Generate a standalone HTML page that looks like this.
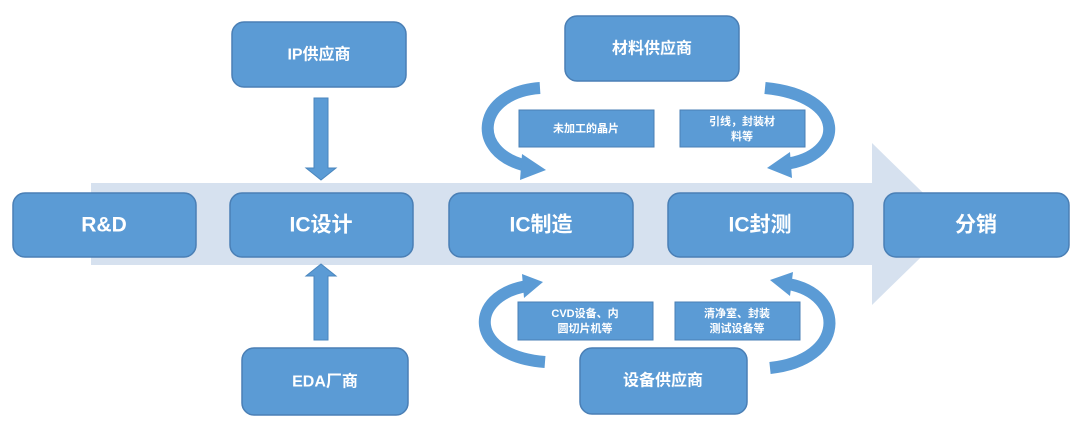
<!DOCTYPE html>
<html><head><meta charset="utf-8"><style>
html,body{margin:0;padding:0;background:#fff;}
svg{display:block}
text{font-family:"Liberation Sans","Noto Sans CJK SC",sans-serif;font-weight:bold;fill:#fff;text-anchor:middle;dominant-baseline:central}
</style></head><body>
<svg width="1080" height="430" viewBox="0 0 1080 430" xmlns="http://www.w3.org/2000/svg">
<!-- big light arrow -->
<polygon points="91,183 872,183 872,143 955,224 872,305 872,265 91,265" fill="#d6e1ef"/>
<!-- vertical arrows -->
<polygon points="314,98 328,98 328,168 336,168 321,180 306,168 314,168" fill="#5b9bd5" stroke="#4a86be" stroke-width="1"/>
<polygon points="314,340 328,340 328,276 336,276 321,264 306,276 314,276" fill="#5b9bd5" stroke="#4a86be" stroke-width="1"/>
<!-- curved arrows -->
<g fill="none" stroke="#5b9bd5" stroke-width="12">
<path d="M540,88 C478,92 468,152 527,166"/>
<path d="M765,88 C848,96 846,156 785,164"/>
<path d="M545,362 C468,356 468,296 527,286"/>
<path d="M770,368 C846,360 846,294 788,284"/>
</g>
<g fill="#5b9bd5">
<polygon points="522,154 546,170 520,180"/>
<polygon points="790,152 767,168 792,178"/>
<polygon points="522,274 543,282 524,298"/>
<polygon points="793,272 770,280 790,296"/>
</g>
<!-- main boxes -->
<g fill="#5b9bd5" stroke="#4a7fb5" stroke-width="1.5">
<rect x="13" y="193" width="183" height="64" rx="12"/>
<rect x="230" y="193" width="183" height="64" rx="12"/>
<rect x="449" y="193" width="184" height="64" rx="12"/>
<rect x="668" y="193" width="185" height="64" rx="12"/>
<rect x="884" y="193" width="185" height="64" rx="12"/>
<rect x="232" y="22" width="174" height="65" rx="12"/>
<rect x="242" y="348" width="166" height="67" rx="12"/>
<rect x="565" y="16" width="174" height="65" rx="12"/>
<rect x="580" y="348" width="167" height="66" rx="12"/>
</g>
<g fill="#5b9bd5" stroke="#4a7fb5" stroke-width="1">
<rect x="519" y="110" width="135" height="37"/>
<rect x="680" y="110" width="125" height="37"/>
<rect x="518" y="302" width="135" height="38"/>
<rect x="675" y="302" width="125" height="38"/>
</g>
<text x="104" y="225" font-size="21">R&amp;D</text>
<text x="321" y="225" font-size="21">IC设计</text>
<text x="541" y="225" font-size="21">IC制造</text>
<text x="760" y="225" font-size="21">IC封测</text>
<text x="976" y="225" font-size="21">分销</text>
<text x="319" y="55" font-size="16">IP供应商</text>
<text x="325" y="382" font-size="16">EDA厂商</text>
<text x="652" y="49" font-size="16">材料供应商</text>
<text x="663" y="381" font-size="16">设备供应商</text>
<text x="586" y="129" font-size="11">未加工的晶片</text>
<text x="742" y="122" font-size="11">引线，封装材</text>
<text x="742" y="137" font-size="11">料等</text>
<text x="585" y="314" font-size="11">CVD设备、内</text>
<text x="585" y="329" font-size="11">圆切片机等</text>
<text x="737" y="314" font-size="11">清净室、封装</text>
<text x="737" y="329" font-size="11">测试设备等</text>
</svg>
</body></html>
